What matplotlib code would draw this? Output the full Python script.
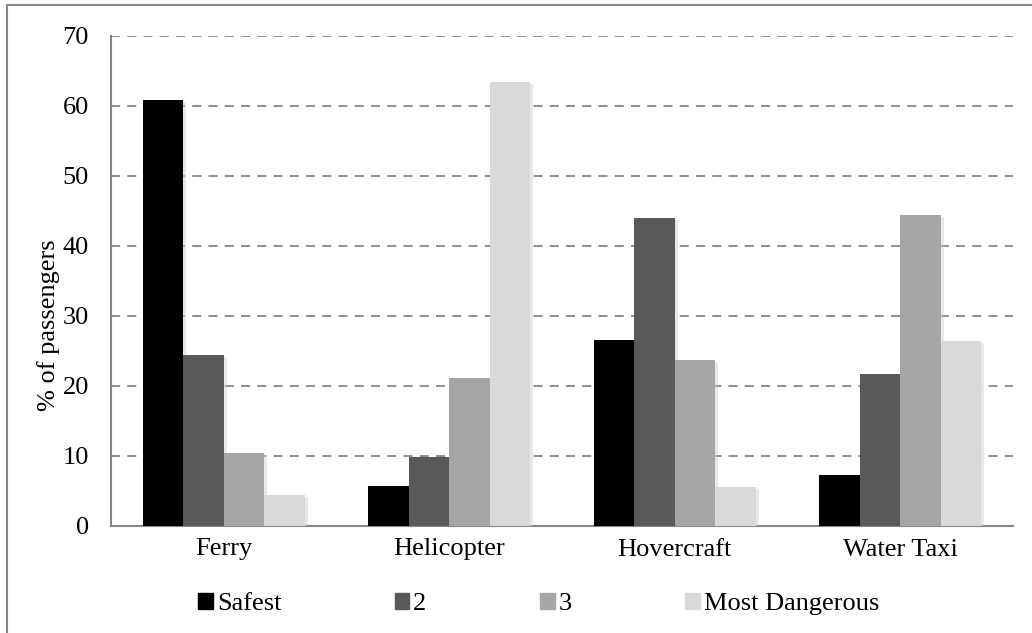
import numpy as np
import matplotlib.pyplot as plt
import matplotlib.patheffects as pe
from matplotlib.patches import Rectangle

plt.rcParams['font.family'] = ['Liberation Serif', 'DejaVu Serif']

# данные
categories = ["Ferry", "Helicopter", "Hovercraft", "Water Taxi"]
series_names = ["Safest", "2", "3", "Most Dangerous"]
safest = [60.8, 5.7, 26.6, 7.3]
rank2 = [24.4, 9.8, 44.0, 21.7]
rank3 = [10.4, 21.2, 23.7, 44.5]
most_dangerous = [4.4, 63.4, 5.6, 26.5]
colors = ["#000000", "#595959", "#a6a6a6", "#d9d9d9"]

fig = plt.figure(figsize=(10.32, 6.33), dpi=100)
ax = fig.add_axes([111/1032, 1 - 526/633, (1013 - 111)/1032, (526 - 36)/633])

x = np.arange(len(categories))
w = 0.18
shadow = [pe.SimplePatchShadow(offset=(2, -1.5), shadow_rgbFace='#cccccc', alpha=0.45), pe.Normal()]
for i, vals in enumerate([safest, rank2, rank3, most_dangerous]):
    bars = ax.bar(x + (i - 1.5) * w, vals, w, color=colors[i], zorder=3)
    for b in bars:
        b.set_path_effects(shadow)

ax.set_xlim(-0.5, 3.5)
ax.set_ylim(0, 70)
ax.set_yticks(range(0, 71, 10))
ax.set_xticks(x)
ax.set_xticklabels(categories)
ax.tick_params(axis='both', labelsize=19, length=0)
ax.tick_params(axis='x', pad=9)
ax.tick_params(axis='y', pad=16)
ax.yaxis.grid(True, linestyle=(0, (5, 4)), color='#868686', linewidth=1.3, zorder=0)
ax.set_axisbelow(True)
for s in ['top', 'right']:
    ax.spines[s].set_visible(False)
for s in ['left', 'bottom']:
    ax.spines[s].set_color('#868686')
    ax.spines[s].set_linewidth(1.5)
ax.set_ylabel("% of passengers", fontsize=19, labelpad=2)
ax.yaxis.set_label_coords(-0.056, 0.41)

handles = [Rectangle((0, 0), 1, 1, color=c) for c in colors]
fig.legend(handles, series_names, loc='center', bbox_to_anchor=(0.522, 1 - 604/633), ncol=4,
           frameon=False, fontsize=19, handlelength=0.55, handleheight=0.55,
           handletextpad=0.15, columnspacing=4.3)

# рамка вокруг диаграммы
fig.patches.append(Rectangle((7/1032, -0.1), 1.2, 1 - 5/633 + 0.1, transform=fig.transFigure,
                             fill=False, edgecolor='#888888', linewidth=1.5))

fig.savefig("out.png", dpi=100)
